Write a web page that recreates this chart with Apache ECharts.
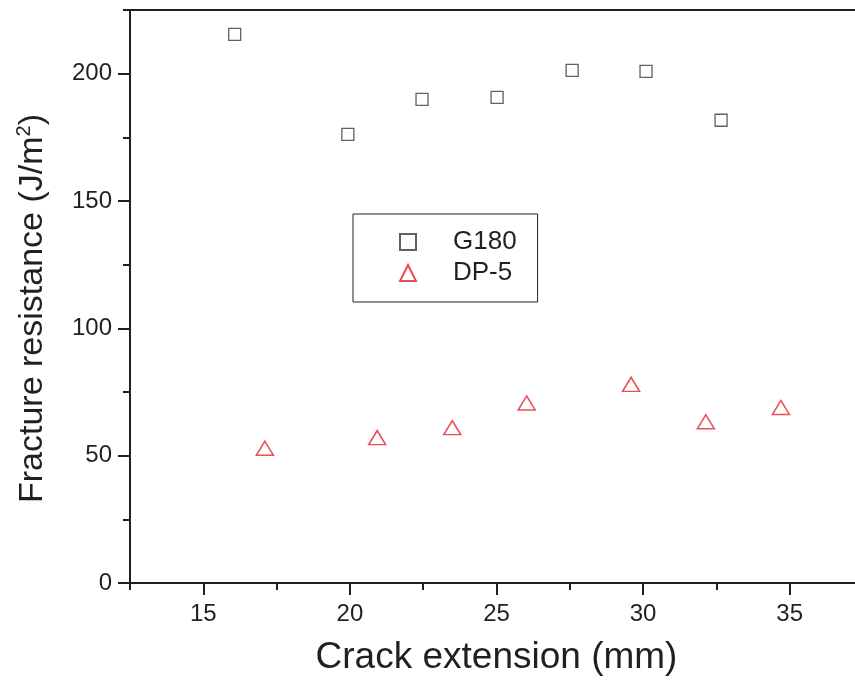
<!DOCTYPE html>
<html>
<head>
<meta charset="utf-8">
<script src="https://cdn.jsdelivr.net/npm/echarts@6/dist/echarts.min.js"></script>
<style>
  html, body { margin: 0; padding: 0; background: #fff; }
  #chart { width: 855px; height: 685px; }
</style>
</head>
<body>
<div id="chart"></div>
<script>
// crack extension (mm) and fracture resistance (J/m2)
var g180X = [16.07, 19.93, 22.46, 25.02, 27.58, 30.1, 32.66];
var g180Y = [215.4, 176.2, 189.9, 190.7, 201.3, 200.9, 181.7];
var dp5X = [17.1, 20.93, 23.49, 26.03, 29.59, 32.14, 34.7];
var dp5Y = [52.9, 57.1, 61.0, 70.7, 78.0, 63.3, 68.9];
var xMajor = [15, 20, 25, 30, 35];
var yMajor = [0, 50, 100, 150, 200];

var ink = '#231f20';
var font = '"Liberation Sans", Arial, sans-serif';

function pairs(xs, ys) {
	var out = [];
	for (var i = 0; i < xs.length; i++) {
		out.push([xs[i], ys[i]]);
	}
	return out;
}

var chart = echarts.init(document.getElementById('chart'), null, { renderer: 'canvas' });

var xBase = { type: 'value', min: 12.5, max: 37.5, interval: 2.5, splitLine: { show: false } };
var yBase = { type: 'value', min: 0, max: 225, interval: 25, splitLine: { show: false } };

chart.setOption({
	animation: false,
	backgroundColor: '#fff',
	grid: { left: 130, top: 10, right: -8, bottom: 102, containLabel: false, outerBoundsMode: 'none' },
	legend: {
		orient: 'vertical',
		left: 353,
		top: 214,
		padding: [13, 21, 14, 46],
		itemGap: 1,
		itemWidth: 16,
		itemHeight: 16,
		borderColor: ink,
		borderWidth: 1,
		backgroundColor: '#fff',
		textStyle: { fontFamily: font, fontSize: 26, color: ink, lineHeight: 30, padding: [0, 0, 0, 32] },
		data: ['G180', 'DP-5']
	},
	xAxis: [
		Object.assign({}, xBase, {
			position: 'bottom',
			name: 'Crack extension (mm)',
			nameLocation: 'middle',
			nameGap: 56,
			nameTextStyle: { fontFamily: font, fontSize: 37, color: ink },
			axisLine: { lineStyle: { color: ink, width: 2 } },
			axisTick: { length: 7, lineStyle: { color: ink, width: 2 } },
			axisLabel: {
				margin: 19, fontFamily: font, fontSize: 24, color: ink,
				formatter: function (v) { return xMajor.indexOf(v) >= 0 ? String(v) : ''; }
			}
		}),
		Object.assign({}, xBase, {
			position: 'bottom',
			axisLine: { show: false },
			axisTick: { length: 12, customValues: xMajor, lineStyle: { color: ink, width: 2 } },
			axisLabel: { show: false }
		}),
		Object.assign({}, xBase, {
			position: 'top',
			axisLine: { lineStyle: { color: ink, width: 2 } },
			axisTick: { show: false },
			axisLabel: { show: false }
		})
	],
	yAxis: [
		Object.assign({}, yBase, {
			position: 'left',
			name: 'Fracture resistance (J/m{sup|2})',
			nameLocation: 'middle',
			nameGap: 78,
			nameTextStyle: {
				fontFamily: font, fontSize: 34, color: ink, padding: [0, 24, 0, 0],
				rich: { sup: { fontFamily: font, fontSize: 20, color: ink, verticalAlign: 'bottom', padding: [0, 0, 18, 0] } }
			},
			axisLine: { lineStyle: { color: ink, width: 2 } },
			axisTick: { length: 7, lineStyle: { color: ink, width: 2 } },
			axisLabel: {
				margin: 18, fontFamily: font, fontSize: 24, color: ink,
				formatter: function (v) { return yMajor.indexOf(v) >= 0 ? String(v) : ''; }
			}
		}),
		Object.assign({}, yBase, {
			position: 'left',
			axisLine: { show: false },
			axisTick: { length: 12, customValues: yMajor, lineStyle: { color: ink, width: 2 } },
			axisLabel: { show: false }
		})
	],
	series: [
		{
			name: 'G180',
			type: 'scatter',
			symbol: 'rect',
			symbolSize: 12,
			itemStyle: { color: '#fff', borderColor: '#3a3a3a', borderWidth: 1.3 },
			data: pairs(g180X, g180Y)
		},
		{
			name: 'DP-5',
			type: 'scatter',
			symbol: 'triangle',
			symbolSize: [17, 14],
			itemStyle: { color: '#fff', borderColor: '#e3232a', borderWidth: 1.5 },
			data: pairs(dp5X, dp5Y)
		}
	]
});
</script>
</body>
</html>
